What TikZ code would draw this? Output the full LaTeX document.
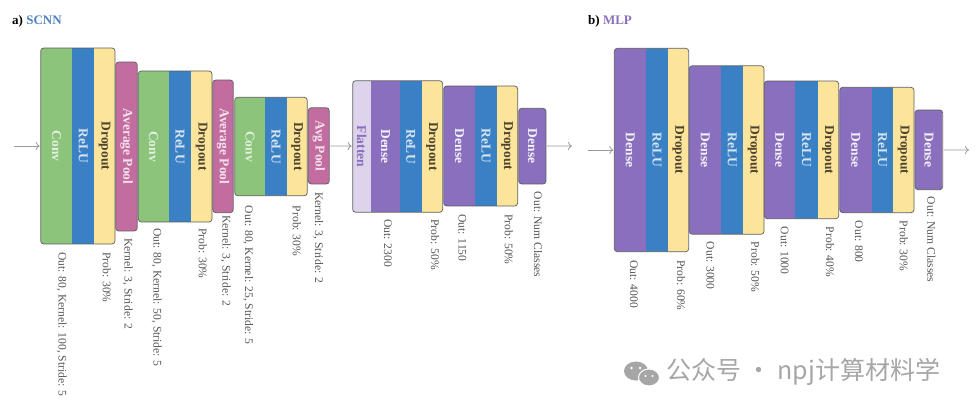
\documentclass[tikz,border=0pt]{standalone}
\usepackage{fontspec}
\setmainfont{Liberation Serif}
\newfontfamily\cjk{Noto Sans CJK SC}
\usetikzlibrary{arrows.meta}

\definecolor{convgreen}{HTML}{8CC47B}
\definecolor{relublue}{HTML}{3A80C4}
\definecolor{dropyellow}{HTML}{FDE49B}
\definecolor{poolpink}{HTML}{C36C9F}
\definecolor{densepurple}{HTML}{8A6FBF}
\definecolor{flatlav}{HTML}{DDD3EA}
\definecolor{framegray}{HTML}{5C5C5C}
\definecolor{labelgray}{HTML}{555555}
\definecolor{arrowgray}{HTML}{9A9A9A}
\definecolor{titleblue}{HTML}{4F82BE}
\definecolor{wmgray}{HTML}{A6A6A6}

\tikzset{
  conv/.style={fill=convgreen},
  relu/.style={fill=relublue},
  drop/.style={fill=dropyellow},
  pool/.style={fill=poolpink},
  dense/.style={fill=densepurple},
  flat/.style={fill=flatlav},
  conv-t/.style={text=convgreen!25!white},
  relu-t/.style={text=relublue!20!white},
  drop-t/.style={text=dropyellow!30!black},
  pool-t/.style={text=poolpink!20!white},
  dense-t/.style={text=densepurple!10!white},
  flat-t/.style={text=densepurple},
  layername/.style={rotate=-90, inner sep=0, font=\bfseries\fontsize{13.5}{15}\selectfont},
  info/.style={rotate=-90, anchor=west, inner sep=0, text=labelgray, font=\fontsize{11.6}{13}\selectfont},
  frame/.style={draw=framegray, line width=0.7pt, rounded corners=3pt, inner sep=0, outer sep=0},
  flow/.style={draw=arrowgray, line width=0.8pt, -{To[length=4pt,width=8pt]}, shorten >=1pt, shorten <=1pt},
  title/.style={anchor=west, inner sep=0, font=\bfseries\fontsize{13}{15}\selectfont}
}

% #1 name, #2/#3 left/right, #4/#5 top/bottom, #6 columns xa/xb/kind/text
\newcommand{\layerstack}[6]{%
  \begin{scope}
    \clip[rounded corners=3pt] (#2,#4) rectangle (#3,#5);
    \foreach \xa/\xb/\kind/\txt in {#6}
      \fill[\kind] (\xa,#4) rectangle (\xb,#5);
  \end{scope}
  \foreach \xa/\xb/\kind/\txt [count=\i] in {#6}
    \node[layername, \kind-t] (#1-\i) at ({(\xa+\xb)/2},{(#4+#5)/2}) {\txt};
  \node[frame, minimum width={#3-#2}, minimum height={#5-#4}] (#1) at ({(#2+#3)/2},{(#4+#5)/2}) {};
}

\begin{document}
\begin{tikzpicture}[x=1pt, y=-1pt]
  \useasboundingbox (0,0) rectangle (979,410);

  \node[title] (ta) at (12,21) {a) \textcolor{titleblue}{SCNN}};
  \node[title] (tb) at (588,21) {b) \textcolor{densepurple}{MLP}};

  % SCNN
  \layerstack{s1}{40.7}{115}{48}{244}{40.7/72.3/conv/Conv, 72.3/94.3/relu/ReLU, 94.3/115/drop/Dropout}
  \layerstack{s2}{115.7}{137.3}{62}{231}{115.7/137.3/pool/Average Pool}
  \layerstack{s3}{138.3}{212}{71}{222}{138.3/169/conv/Conv, 169/191/relu/ReLU, 191/212/drop/Dropout}
  \layerstack{s4}{212.7}{233.3}{80}{212.7}{212.7/233.3/pool/Average Pool}
  \layerstack{s5}{234.7}{307.3}{97.3}{195.7}{234.7/265.3/conv/Conv, 265.3/286.7/relu/ReLU, 286.7/307.3/drop/Dropout}
  \layerstack{s6}{308.3}{329.3}{107.7}{184}{308.3/329.3/pool/Avg Pool}
  \layerstack{s7}{352.7}{442.7}{80.7}{212.3}{352.7/370.7/flat/Flatten, 370.7/400/dense/Dense, 400/421.7/relu/ReLU, 421.7/442.7/drop/Dropout}
  \layerstack{s8}{443.7}{517.7}{86}{206}{443.7/475.3/dense/Dense, 475.3/496.7/relu/ReLU, 496.7/517.7/drop/Dropout}
  \layerstack{s9}{518.7}{546}{108.3}{184}{518.7/546/dense/Dense}

  \coordinate (sin) at (13,146);
  \coordinate (sout) at (573,146);
  \draw[flow] (sin) -- (s1);
  \draw[flow] (s6) -- (s7);
  \draw[flow] (s9) -- (sout);

  \node[info] (s1a) at (61.7,252) {Out: 80, Kernel: 100, Stride: 5};
  \node[info] (s1b) at (106.7,252) {Prob: 30\%};
  \node[info] (s2a) at (127.7,238) {Kernel: 3, Stride: 2};
  \node[info] (s3a) at (156.7,228) {Out: 80, Kernel: 50, Stride: 5};
  \node[info] (s3b) at (202.7,228) {Prob: 30\%};
  \node[info] (s4a) at (225.7,215) {Kernel: 3, Stride: 2};
  \node[info] (s5a) at (248.3,205.7) {Out: 80, Kernel: 25, Stride: 5};
  \node[info] (s5b) at (296.7,205.7) {Prob: 30\%};
  \node[info] (s6a) at (318.3,192) {Kernel: 3, Stride: 2};
  \node[info] (s7a) at (388,219.3) {Out: 2300};
  \node[info] (s7b) at (435,219.3) {Prob: 50\%};
  \node[info] (s8a) at (462.5,214) {Out: 1150};
  \node[info] (s8b) at (508.7,214) {Prob: 50\%};
  \node[info] (s9a) at (538,191.7) {Out: Num Classes};

  % MLP
  \layerstack{m1}{614.3}{688.7}{48.3}{251.7}{614.3/646/dense/Dense, 646/668/relu/ReLU, 668/688.7/drop/Dropout}
  \layerstack{m2}{689.3}{764}{65.7}{234.3}{689.3/721.3/dense/Dense, 721.3/743/relu/ReLU, 743/764/drop/Dropout}
  \layerstack{m3}{764.3}{838.7}{81}{218.7}{764.3/795/dense/Dense, 795/817.7/relu/ReLU, 817.7/838.7/drop/Dropout}
  \layerstack{m4}{839.7}{914}{87.3}{212.7}{839.7/871.7/dense/Dense, 871.7/893.3/relu/ReLU, 893.3/914/drop/Dropout}
  \layerstack{m5}{915}{942.7}{110}{189.7}{915/942.7/dense/Dense}

  \coordinate (min) at (586.7,150);
  \coordinate (mout) at (970,150);
  \draw[flow] (min) -- (m1);
  \draw[flow] (m5) -- (mout);

  \node[info] (m1a) at (634,260) {Out: 4000};
  \node[info] (m1b) at (681,260) {Prob: 60\%};
  \node[info] (m2a) at (710.5,241.7) {Out: 3000};
  \node[info] (m2b) at (755.3,241.7) {Prob: 50\%};
  \node[info] (m3a) at (784.7,226.7) {Out: 1000};
  \node[info] (m3b) at (830,226.7) {Prob: 40\%};
  \node[info] (m4a) at (858.8,220.7) {Out: 800};
  \node[info] (m4b) at (903.7,220.7) {Prob: 30\%};
  \node[info] (m5a) at (931.3,196.7) {Out: Num Classes};

  % watermark
  \fill[wmgray] (636,371) ellipse (12 and 9.5);
  \filldraw[fill=wmgray, draw=white, line width=1pt] (649,377.5) ellipse (10.5 and 8.5);
  \fill[white] (631.5,368) circle (1.4) (640,368) circle (1.4) (645.5,376) circle (1.2) (652.5,376) circle (1.2);
  \node[anchor=west, inner sep=0, text=wmgray, font=\cjk\fontsize{25}{27}\selectfont] (wm) at (666,372) {公众号 · npj计算材料学};
\end{tikzpicture}
\end{document}
